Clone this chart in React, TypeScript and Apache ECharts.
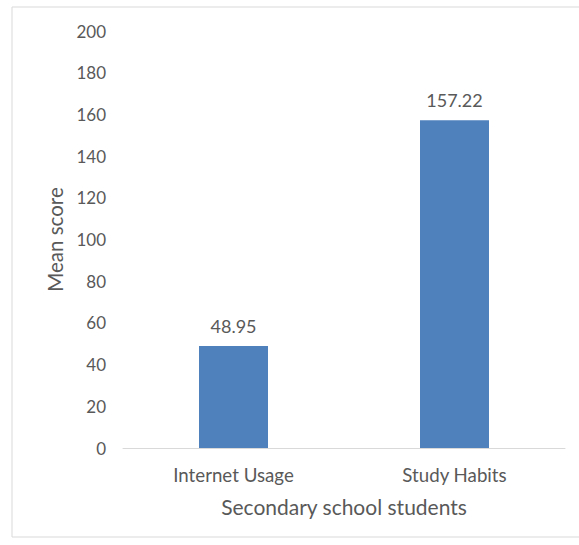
import React, { useEffect, useRef } from "react";
import * as echarts from "echarts";

const categories = ["Internet Usage", "Study Habits"];
const meanScores = [48.95, 157.22];
const yTicks = { min: 0, max: 200, interval: 20 };

const FONT = "Lato, 'Open Sans', 'Liberation Sans', sans-serif";
const TEXT = "#595959";

export default function App() {
  const ref = useRef<HTMLDivElement>(null);
  useEffect(() => {
    if (!ref.current) return;
    const chart = echarts.init(ref.current, undefined, { renderer: "svg" });
    chart.setOption({
      animation: false,
      backgroundColor: "#ffffff",
      textStyle: { fontFamily: FONT, color: TEXT },
      graphic: [
        {
          type: "rect",
          shape: { x: 12, y: 7, width: 590, height: 530 },
          style: { fill: "none", stroke: "#d9d9d9", lineWidth: 1 },
          silent: true,
        },
      ],
      grid: { left: 123, right: 14, top: 31, bottom: 97, containLabel: false },
      xAxis: {
        type: "category",
        data: categories,
        name: "Secondary school students",
        nameLocation: "middle",
        nameGap: 48,
        nameTextStyle: { fontFamily: FONT, fontSize: 21, color: TEXT },
        axisLine: { lineStyle: { color: "#d9d9d9", width: 1 } },
        axisTick: { show: false },
        axisLabel: { fontFamily: FONT, fontSize: 18.7, color: TEXT, margin: 17 },
      },
      yAxis: {
        type: "value",
        min: yTicks.min,
        max: yTicks.max,
        interval: yTicks.interval,
        name: "Mean score",
        nameLocation: "middle",
        nameGap: 57,
        nameRotate: 90,
        nameTextStyle: { fontFamily: FONT, fontSize: 20.5, color: TEXT },
        axisLine: { show: false },
        axisTick: { show: false },
        splitLine: { show: false },
        axisLabel: { fontFamily: FONT, fontSize: 17, color: TEXT, margin: 17 },
      },
      series: [
        {
          type: "bar",
          data: meanScores,
          barWidth: 69,
          itemStyle: { color: "#4f81bd" },
          label: {
            show: true,
            position: "top",
            distance: 11,
            fontFamily: FONT,
            fontSize: 18,
            color: TEXT,
            formatter: (p: any) => p.value.toFixed(2),
          },
        },
      ],
    });
    return () => chart.dispose();
  }, []);
  return (
    <div
      ref={ref}
      style={{ position: "fixed", left: 0, top: 0, width: 579, height: 545 }}
    />
  );
}
